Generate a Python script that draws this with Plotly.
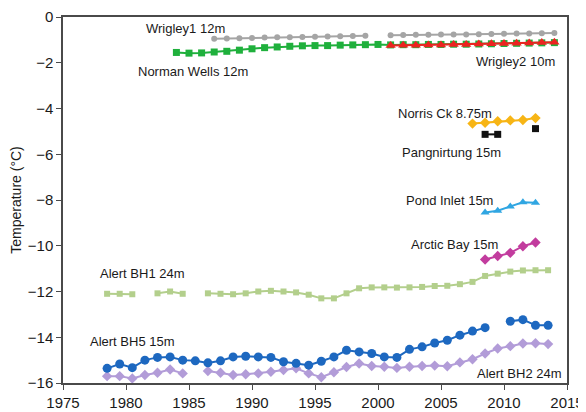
import plotly.graph_objects as go

# ---------------- data ----------------
alert_years = [1978.5, 1979.5, 1980.5, 1981.5, 1982.5, 1983.5, 1984.5, 1985.5, 1986.5, 1987.5,
               1988.5, 1989.5, 1990.5, 1991.5, 1992.5, 1993.5, 1994.5, 1995.5, 1996.5, 1997.5,
               1998.5, 1999.5, 2000.5, 2001.5, 2002.5, 2003.5, 2004.5, 2005.5, 2006.5, 2007.5,
               2008.5, 2009.5, 2010.5, 2011.5, 2012.5, 2013.5]

alert_bh5 = [-15.36, -15.17, -15.33, -15.00, -14.88, -14.86, -15.00, -15.03, -15.12, -15.03,
             -14.86, -14.83, -14.86, -14.88, -15.07, -15.14, -15.22, -15.05, -14.86, -14.57,
             -14.64, -14.71, -14.86, -14.88, -14.53, -14.42, -14.25, -14.13, -13.91, -13.73,
             -13.58, None, -13.30, -13.23, -13.48, -13.48]

alert_bh2 = [-15.70, -15.70, -15.80, -15.65, -15.55, -15.41, -15.58, None, -15.48, -15.55,
             -15.65, -15.62, -15.58, -15.51, -15.43, -15.36, -15.58, -15.75, -15.53, -15.30,
             -15.15, -15.26, -15.29, -15.34, -15.29, -15.26, -15.24, -15.27, -15.10, -14.96,
             -14.71, -14.49, -14.39, -14.27, -14.26, -14.30]

alert_bh1 = [-12.10, -12.10, -12.12, None, -12.08, -12.00, -12.10, None, -12.08, -12.10,
             -12.12, -12.08, -12.00, -11.97, -12.00, -12.04, -12.14, -12.30, -12.30, -12.08,
             -11.86, -11.82, -11.82, -11.83, -11.82, -11.80, -11.76, -11.75, -11.68, -11.58,
             -11.32, -11.22, -11.13, -11.08, -11.07, -11.07]

nw_years = [1984, 1985, 1986, 1987, 1988, 1989, 1990, 1991, 1992, 1993, 1994, 1995, 1996, 1997,
            1998, 1999, 2000, 2001, 2002, 2003, 2004, 2005, 2006, 2007, 2008, 2009, 2010, 2011,
            2012, 2013, 2014]
norman_wells = [-1.55, -1.58, -1.57, -1.53, -1.50, -1.45, -1.39, -1.34, -1.31, -1.28, -1.26, -1.25,
                -1.25, -1.23, -1.22, -1.21, -1.20, -1.22, -1.21, -1.21, -1.20, -1.20, -1.19, -1.19,
                -1.18, -1.17, -1.16, -1.15, -1.14, -1.13, -1.12]

wrigley1_years = [1987, 1988, 1989, 1990, 1991, 1992, 1993, 1994, 1995, 1996, 1997, 1998, 1999,
                  2000, 2001, 2002, 2003, 2004, 2005, 2006, 2007, 2008, 2009, 2010, 2011, 2012,
                  2013, 2014]
wrigley1 = [-0.95, -0.94, -0.93, -0.92, -0.90, -0.89, -0.88, -0.87, -0.86, -0.85, -0.84, -0.83,
            -0.82, None, -0.80, -0.79, -0.78, -0.78, -0.77, -0.76, -0.76, -0.75, -0.74, -0.73,
            -0.72, -0.72, -0.71, -0.70]

wrigley2_years = [2001, 2002, 2003, 2004, 2005, 2006, 2007, 2008, 2009, 2010, 2011, 2012, 2013, 2014]
wrigley2 = [-1.25, -1.24, -1.23, -1.22, -1.22, -1.20, -1.20, -1.18, -1.17, -1.16, -1.15, -1.14,
            -1.12, -1.10]

norris_years = [2007.5, 2008.5, 2009.5, 2010.5, 2011.5, 2012.5]
norris_ck = [-4.66, -4.62, -4.56, -4.52, -4.50, -4.42]

pang_years = [2008.5, 2009.5, 2010.5, 2011.5, 2012.5]
pangnirtung = [-5.13, -5.13, None, None, -4.88]

arctic_years = [2008.5, 2009.5, 2010.5, 2011.5, 2012.5]
pond_inlet = [-8.55, -8.47, -8.28, -8.10, -8.12]
arctic_bay = [-10.60, -10.45, -10.31, -10.02, -9.86]

# ---------------- styling ----------------
series = [
    (alert_years, alert_bh1, "Alert BH1 24m", "#b3cf8c", "square", 6),
    (alert_years, alert_bh2, "Alert BH2 24m", "#b29cd8", "diamond", 8),
    (alert_years, alert_bh5, "Alert BH5 15m", "#1d68c0", "circle", 9),
    (wrigley1_years, wrigley1, "Wrigley1 12m", "#a5a5a5", "circle", 6),
    (nw_years, norman_wells, "Norman Wells 12m", "#1fb03c", "square", 7),
    (wrigley2_years, wrigley2, "Wrigley2 10m", "#ec2320", "triangle-up", 9),
    (norris_years, norris_ck, "Norris Ck 8.75m", "#f7b515", "diamond", 8),
    (pang_years, pangnirtung, "Pangnirtung 15m", "#111111", "square", 7),
    (arctic_years, pond_inlet, "Pond Inlet 15m", "#30a6e2", "triangle-up", 8),
    (arctic_years, arctic_bay, "Arctic Bay 15m", "#c23c9e", "diamond", 8),
]

label_pos = {
    "Wrigley1 12m": (1984.7, -0.52),
    "Norman Wells 12m": (1985.3, -2.40),
    "Wrigley2 10m": (2010.9, -1.96),
    "Norris Ck 8.75m": (2005.35, -4.20),
    "Pangnirtung 15m": (2005.8, -5.94),
    "Pond Inlet 15m": (2005.7, -8.04),
    "Arctic Bay 15m": (2006.05, -9.96),
    "Alert BH1 24m": (1981.3, -11.23),
    "Alert BH5 15m": (1980.5, -14.20),
    "Alert BH2 24m": (2011.2, -15.58),
}

fig = go.Figure()
for xs, ys, name, color, symbol, size in series:
    fig.add_trace(go.Scatter(
        x=xs, y=ys, name=name, mode="lines+markers",
        line=dict(color=color, width=2),
        marker=dict(color=color, symbol=symbol, size=size),
        connectgaps=False, showlegend=False,
    ))

for name, (lx, ly) in label_pos.items():
    fig.add_annotation(x=lx, y=ly, text=name, showarrow=False,
                       font=dict(family="Liberation Sans, Arial, sans-serif", size=13, color="#1a1a1a"))

axis_common = dict(
    showline=True, linecolor="#4a4a4a", linewidth=1.5, mirror=True,
    ticks="outside", ticklen=5, tickcolor="#4a4a4a", tickwidth=1,
    showgrid=False, zeroline=False, automargin=False, ticklabeloverflow="allow",
    tickfont=dict(family="Liberation Sans, Arial, sans-serif", size=15, color="#1a1a1a"),
)

fig.update_xaxes(range=[1975, 2015], dtick=5, tick0=1975, **axis_common)
fig.update_yaxes(range=[-16, 0], dtick=2, tick0=0,
                 title=dict(text="Temperature (°C)", standoff=4,
                            font=dict(family="Liberation Sans, Arial, sans-serif", size=14, color="#1a1a1a")),
                 **axis_common)

# the page adds an 8px body margin, so the figure is sized and placed to compensate
fig.update_layout(
    width=578, height=404,
    margin=dict(l=55, r=19, t=9, b=29),
    paper_bgcolor="white", plot_bgcolor="white",
)

fig.write_html("out.html")
